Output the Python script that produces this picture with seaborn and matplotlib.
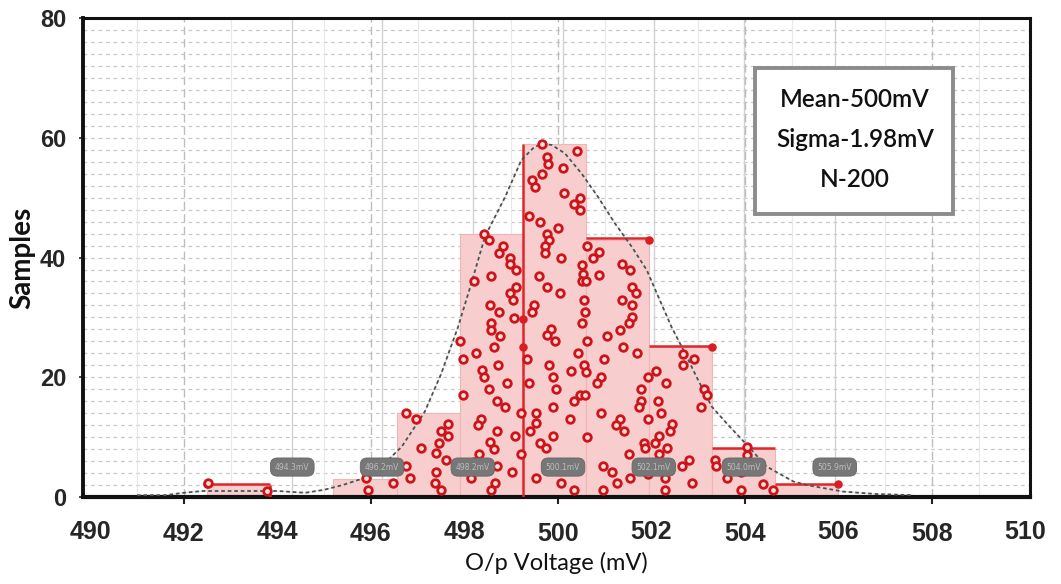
import numpy as np
import pandas as pd
import matplotlib
matplotlib.use("Agg")
import matplotlib.pyplot as plt
import matplotlib.patches as mpatches
from matplotlib.ticker import FixedLocator, FixedFormatter
import seaborn as sns

# ---------------- data ----------------
bin_edges = [492.5, 493.85, 495.2, 496.55, 497.9, 499.25, 500.6, 501.95, 503.3, 504.65, 506.0]
bin_counts = [2, 0, 3, 14, 44, 59, 43, 25, 8, 2]

# bins whose top is outlined in red, and red vertical edges
red_top_bins = [0, 6, 7, 8, 9]
red_edge_x = [493.85, 499.25]
red_edge_top = [2, 59]
red_marker_x = [492.5, 501.95, 503.3, 506.0, 499.25, 499.25]
red_marker_y = [2.2, 43, 25, 2.2, 29.8, 25.1]

# individual samples (x = voltage, y = position in bar)
pts_x = [
    492.52, 493.78,
    495.89, 495.94, 496.48,
    496.76, 496.96, 497.08, 496.76, 496.83, 497.40, 497.37, 497.51, 497.40, 497.45, 497.51, 497.65, 497.64, 497.60,
    498.42, 498.52, 498.83, 498.74, 498.98, 498.98, 499.11, 498.57, 498.21, 499.11, 498.97, 499.04, 498.55, 498.75,
    499.07, 498.56, 498.56, 498.77, 497.91, 498.64, 498.24, 497.98, 498.71, 498.38, 498.42, 498.91, 498.53, 497.98,
    498.70, 498.87, 499.21, 498.35, 498.30, 498.70, 499.08, 498.55, 498.64, 498.32, 499.22, 498.20, 498.69, 498.15,
    499.01, 498.65, 498.57,
    499.65, 499.77, 499.79, 500.41, 500.10, 499.44, 499.52, 499.66, 500.13, 500.34, 500.47, 500.48, 499.39, 499.61,
    500.01, 499.76, 499.81, 499.72, 499.72, 500.06, 499.60, 499.77, 500.04, 499.49, 499.45, 499.86, 499.77, 499.94,
    499.35, 499.82, 499.39, 499.90, 499.97, 500.27, 499.90, 499.54, 499.54, 499.40, 499.61, 499.74, 499.89, 500.26,
    500.34, 500.48, 500.58, 500.43, 500.56, 500.61, 499.54, 500.06, 500.35,
    500.51, 500.53, 500.51, 500.60, 500.56, 500.58, 500.51, 500.63, 500.63, 500.88, 500.76, 500.63, 500.88, 501.38,
    501.54, 501.59, 501.67, 501.38, 501.59, 501.59, 501.52, 501.33, 501.05, 501.40, 501.70, 500.99, 500.92, 500.83,
    500.93, 501.33, 501.24, 501.41, 501.52, 500.97, 501.15, 501.55, 501.26, 500.96, 501.78, 501.77, 501.73,
    501.93, 502.09, 502.32, 502.15, 502.20, 501.93, 502.45, 502.40, 502.17, 502.07, 501.85, 501.87, 502.33, 502.16,
    502.66, 502.81, 502.30, 502.87, 502.29, 502.68, 502.92, 502.68, 503.12, 503.18, 503.05, 501.93,
    504.04, 504.04, 503.36, 503.39, 503.61, 503.91, 503.91, 504.39, 504.59,
]
pts_y = [
    2.3, 1.0,
    3.1, 1.2, 2.3,
    14.1, 13.1, 8.1, 5.2, 3.1, 4.2, 2.3, 1.2, 7.3, 9.1, 11.1, 12.2, 10.2, 6.2,
    44.0, 42.9, 41.9, 40.8, 40.0, 38.9, 38.0, 36.9, 36.0, 35.1, 34.0, 32.9, 32.1, 30.9,
    29.9, 29.0, 27.9, 26.9, 26.1, 25.0, 24.1, 23.0, 22.0, 21.2, 20.0, 19.0, 18.1, 17.0,
    16.1, 15.1, 14.1, 13.1, 12.0, 11.1, 10.2, 9.2, 8.0, 7.2, 7.2, 5.9, 5.2, 3.1,
    4.2, 2.3, 1.2,
    59.0, 56.8, 55.7, 57.8, 54.9, 52.9, 51.8, 54.0, 50.8, 48.9, 49.9, 47.9, 46.9, 46.0,
    44.9, 43.9, 42.9, 41.9, 40.8, 40.0, 36.9, 35.0, 34.0, 32.1, 30.9, 28.0, 27.0, 26.1,
    23.0, 22.0, 19.0, 20.1, 18.1, 21.1, 15.1, 14.1, 12.3, 11.1, 9.1, 8.1, 10.2, 13.1,
    16.1, 17.0, 17.0, 24.0, 22.0, 20.9, 3.1, 2.3, 1.2,
    38.7, 37.3, 36.0, 36.0, 32.9, 30.9, 29.0, 26.0, 10.1, 37.1, 40.0, 41.9, 41.0, 39.0,
    38.0, 35.1, 34.0, 32.9, 32.1, 30.0, 29.0, 27.9, 26.9, 25.0, 24.1, 23.0, 20.1, 19.0,
    14.0, 13.1, 12.0, 11.1, 7.2, 5.2, 4.2, 3.1, 2.3, 1.2, 18.1, 16.1, 15.1,
    20.0, 21.1, 19.0, 16.1, 14.1, 13.1, 12.2, 11.1, 10.2, 9.1, 9.0, 8.1, 8.1, 7.2,
    5.1, 6.2, 3.1, 2.3, 1.2, 23.9, 23.0, 22.0, 18.1, 17.0, 15.1, 3.9,
    8.3, 7.0, 6.2, 5.1, 3.1, 4.1, 1.1, 2.2, 1.1,
]

# fitted distribution curve
curve_x = [491.0, 491.6, 492.0, 492.4, 493.2, 494.0, 494.6, 495.0, 495.4, 495.87, 496.23, 496.66, 497.15,
           497.5, 497.86, 498.15, 498.44, 498.87, 499.22, 499.5, 499.7, 499.87, 500.15, 500.51, 500.86,
           501.22, 501.58, 501.9, 502.15, 502.43, 502.72, 503.0, 503.29, 503.61, 504.04, 504.46, 505.03,
           505.32, 505.67, 506.1, 506.8, 507.6]
curve_y = [0.3, 0.3, 0.7, 1.0, 1.0, 1.0, 0.7, 1.2, 2.0, 3.2, 5.1, 8.4, 14.2, 20.5, 28.3, 35.7, 43.5, 50.1,
           56.3, 58.5, 59.0, 58.8, 57.4, 54.0, 50.1, 45.7, 41.8, 37.9, 33.4, 28.4, 24.0, 19.5, 15.1, 12.3,
           8.7, 5.1, 2.6, 2.0, 1.5, 0.9, 0.5, 0.3]

# tooltip pills
pill_x = [494.32, 496.24, 498.18, 500.11, 502.05, 503.98, 505.92]
pill_y = 5.0

major_ticks = [492, 496, 500, 504, 508]
minor_ticks = [490, 494, 498, 502, 506, 510]
y_ticks = [0, 20, 40, 60, 80]
stats_lines = ["Mean-500mV", "Sigma-1.98mV", "N-200"]

# ---------------- style ----------------
sns.set_style("white")
plt.rcParams['font.family'] = ['Liberation Sans', 'DejaVu Sans']

fig = plt.figure(figsize=(10.61, 5.84), dpi=100)
ax = fig.add_axes([0.078, 0.149, 0.893, 0.820])
ax.set_xlim(489.84, 510.10)
ax.set_ylim(0, 80)

# grid
for g in range(2, 80, 2):
    ax.axhline(g, color='#c8c8c8', lw=0.9, ls=(0, (3, 3)), zorder=0)
for g in [491, 493, 495, 497, 499, 501, 503, 505, 507, 509]:
    ax.axvline(g, color='#e8e8e8', lw=0.8, zorder=0)
for g in pill_x:
    ax.axvline(g, color='#d2d2d2', lw=1.0, zorder=0)
for g in major_ticks:
    ax.axvline(g, color='#bdbdbd', lw=1.0, ls=(0, (6, 3)), zorder=0)

# histogram
centers = [(a + b) / 2 for a, b in zip(bin_edges[:-1], bin_edges[1:])]
sns.histplot(x=centers, weights=bin_counts, bins=bin_edges, ax=ax, color='#f7cdcd', alpha=1.0,
             edgecolor='#f2b5b5', linewidth=0.8, zorder=1)

# red outline
for i in red_top_bins:
    ax.hlines(bin_counts[i] + 0.2, bin_edges[i], bin_edges[i + 1], color='#e0262b', lw=1.8, zorder=3)
ax.vlines(red_edge_x, 0, red_edge_top, color='#e0262b', lw=1.8, zorder=3)
ax.scatter(red_marker_x, red_marker_y, s=26, color='#d81e22', zorder=4)

# curve
ax.plot(curve_x, curve_y, color='#dddddd', lw=0.8, zorder=2)
sns.lineplot(x=curve_x, y=curve_y, ax=ax, color='#505050', lw=1.3, linestyle=(0, (2, 1.6)),
             sort=False, estimator=None, zorder=5)

# samples
sns.scatterplot(x=pts_x, y=pts_y, ax=ax, marker='o', s=30, color='#f6dcdc',
                edgecolor='#cc1419', linewidth=2.0, zorder=6)

# pills
for px in pill_x:
    ax.text(px, pill_y, f"{px:.1f}mV", fontsize=5.5, color='#bdbdbd', ha='center', va='center',
            zorder=7, family='DejaVu Sans',
            bbox=dict(boxstyle='round,pad=0.6,rounding_size=0.9', fc='#777777', ec='#666666', lw=0.6))

# stats box
ax.add_patch(mpatches.Rectangle((0.709, 0.591), 0.209, 0.305, transform=ax.transAxes,
                                facecolor='white', edgecolor='#8c8c8c', lw=2.8, zorder=8))
for k, line in enumerate(stats_lines):
    ax.text(0.815, 0.829 - k * 0.0835, line, transform=ax.transAxes, ha='center', va='center',
            fontsize=17.5, color='#111111', zorder=9, family=['Lato', 'DejaVu Sans'], fontweight='semibold')

# axes / ticks
ax.xaxis.set_major_locator(FixedLocator(major_ticks))
ax.xaxis.set_major_formatter(FixedFormatter([str(t) for t in major_ticks]))
ax.xaxis.set_minor_locator(FixedLocator(minor_ticks))
ax.xaxis.set_minor_formatter(FixedFormatter([str(t) for t in minor_ticks]))
ax.tick_params(axis='x', which='major', length=5, width=1.5, pad=13, labelsize=18, direction='out',
               bottom=True, color='#222222')
ax.tick_params(axis='x', which='minor', length=0, pad=16.5, labelsize=18, bottom=True)
ax.set_yticks(y_ticks)
ax.tick_params(axis='y', length=3, width=1.2, pad=9, labelsize=17, left=True)
for lab in ax.get_xticklabels(which='both') + ax.get_yticklabels():
    lab.set_fontweight('bold')

for s in ax.spines.values():
    s.set_visible(True)
    s.set_color('#111111')
    s.set_linewidth(2.2)
ax.spines['bottom'].set_linewidth(3.0)
ax.spines['left'].set_linewidth(2.8)

ax.set_xlabel("O/p Voltage (mV)", fontsize=17, labelpad=4, family=['Lato', 'DejaVu Sans'], color='#111111')
ax.set_ylabel("Samples", fontsize=20, fontweight='bold', family=['Lato', 'DejaVu Sans'],
              color='#111111')
ax.yaxis.set_label_coords(-0.050, 0.5)

fig.savefig("out.png", dpi=100)
